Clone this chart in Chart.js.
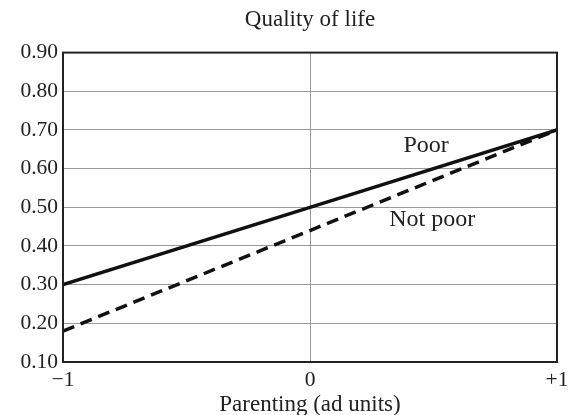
<!DOCTYPE html>
<html>
<head>
<meta charset="utf-8">
<script src="https://cdn.jsdelivr.net/npm/chart.js@4"></script>
<style>
  html, body { margin: 0; padding: 0; background: #fff; }
  #wrap { width: 570px; height: 415px; }
</style>
</head>
<body>
<div id="wrap"><canvas id="chart"></canvas></div>
<script>
const parenting = [-1, 0, 1];
const poor = [0.30, 0.50, 0.70];
const notPoor = [0.18, 0.44, 0.70];
const xTickLabels = { '-1': '\u22121', '0': '0', '1': '+1' };
const lineLabels = [
  { text: 'Poor', x: 0.47, y: 0.66 },
  { text: 'Not poor', x: 0.495, y: 0.468 }
];

const serif = "'Liberation Serif', 'DejaVu Serif', serif";

// frame round the plot + the two line labels
const framePlugin = {
  id: 'frame',
  afterDraw(chart) {
    const { ctx, chartArea: a, scales } = chart;
    ctx.save();
    ctx.strokeStyle = '#222';
    ctx.lineWidth = 2;
    ctx.strokeRect(a.left, a.top, a.right - a.left, a.bottom - a.top);
    ctx.fillStyle = '#222';
    ctx.font = '24px ' + serif;
    ctx.textAlign = 'center';
    ctx.textBaseline = 'middle';
    lineLabels.forEach(l => {
      ctx.fillText(l.text, scales.x.getPixelForValue(l.x), scales.y.getPixelForValue(l.y));
    });
    ctx.restore();
  }
};

new Chart(document.getElementById('chart'), {
  type: 'line',
  data: {
    datasets: [
      {
        label: 'Poor',
        data: parenting.map((x, i) => ({ x, y: poor[i] })),
        borderColor: '#111',
        borderWidth: 3.5,
        pointRadius: 0,
        fill: false
      },
      {
        label: 'Not poor',
        data: parenting.map((x, i) => ({ x, y: notPoor[i] })),
        borderColor: '#111',
        borderWidth: 3.5,
        borderDash: [12, 7],
        pointRadius: 0,
        fill: false
      }
    ]
  },
  options: {
    responsive: true,
    maintainAspectRatio: false,
    animation: false,
    layout: { padding: { left: 0, right: 0, top: 0, bottom: 0 } },
    plugins: {
      legend: { display: false },
      tooltip: { enabled: false },
      title: {
        display: true,
        fullSize: false,
        text: 'Quality of life',
        color: '#222',
        font: { family: serif, size: 23, weight: 'normal' },
        padding: { top: 6, bottom: 19 }
      }
    },
    scales: {
      x: {
        type: 'linear',
        min: -1,
        max: 1,
        border: { display: false },
        afterFit: s => { s.height = 53; s.paddingRight = 13; s.paddingLeft = 0; },
        grid: {
          drawTicks: false,
          color: ctx => ctx.tick && ctx.tick.value === 0 ? '#999' : 'rgba(0,0,0,0)',
          lineWidth: 1
        },
        ticks: {
          stepSize: 1,
          padding: 5,
          color: '#222',
          font: { family: serif, size: 21.5 },
          callback: v => xTickLabels[String(v)]
        },
        title: {
          display: true,
          text: 'Parenting (ad units)',
          color: '#222',
          font: { family: serif, size: 23 },
          padding: { top: 0, bottom: -4 }
        }
      },
      y: {
        min: 0.10,
        max: 0.90,
        border: { display: false },
        afterFit: s => { s.width = 63; },
        grid: { drawTicks: false, color: '#999', lineWidth: 1 },
        ticks: {
          stepSize: 0.1,
          padding: 5,
          color: '#222',
          font: { family: serif, size: 21.5 },
          callback: v => v.toFixed(2)
        }
      }
    }
  },
  plugins: [framePlugin]
});
</script>
</body>
</html>
